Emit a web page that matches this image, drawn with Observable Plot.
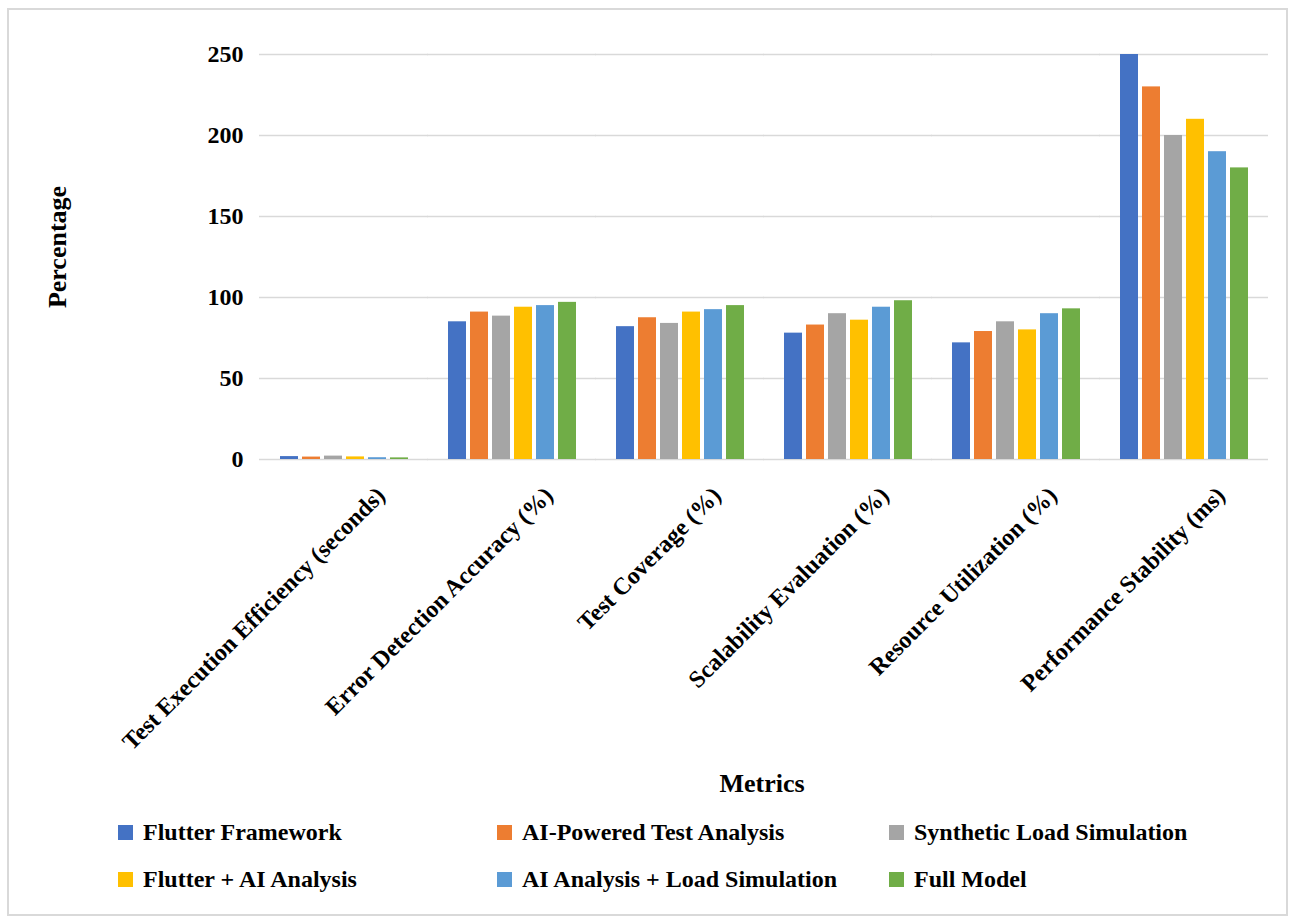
<!DOCTYPE html>
<html><head><meta charset="utf-8">
<script src="https://cdn.jsdelivr.net/npm/d3@7"></script>
<script src="https://cdn.jsdelivr.net/npm/@observablehq/plot@0.6"></script>
<style>
body{margin:0;background:#fff;font-family:"Liberation Serif","Times New Roman",serif;}
#wrap{position:relative;width:1295px;height:924px;overflow:hidden;background:#fff;}
#frame{position:absolute;left:7px;top:8px;width:1281px;height:908px;border:2px solid #d9d9d9;box-sizing:border-box;}
#chart{position:absolute;left:0;top:0;}
.ttl{position:absolute;font-weight:bold;font-size:26px;color:#000;white-space:nowrap;line-height:1;}
#ylab{left:58px;top:247px;transform:translate(-50%,-50%) rotate(-90deg);}
#xlab{left:762px;top:784px;transform:translate(-50%,-50%);}
#legend{position:absolute;left:118px;top:809px;display:grid;grid-template-columns:379px 392px auto;grid-auto-rows:47px;font-weight:bold;font-size:24px;color:#000;}
.item{display:flex;align-items:center;white-space:nowrap;}
.sw{width:15px;height:15px;margin-right:10px;flex:none;}
</style>
</head><body>
<div id="wrap">
  <div id="frame"></div>
  <div id="chart"></div>
  <div class="ttl" id="ylab">Percentage</div>
  <div class="ttl" id="xlab">Metrics</div>
  <div id="legend"></div>
</div>
<script>
const categories = ["Test Execution Efficiency (seconds)", "Error Detection Accuracy (%)", "Test Coverage (%)", "Scalability Evaluation (%)", "Resource Utilization (%)", "Performance Stability (ms)"];
const series = ["Flutter Framework", "AI-Powered Test Analysis", "Synthetic Load Simulation", "Flutter + AI Analysis", "AI Analysis + Load Simulation", "Full Model"];
const colors = ["#4472C4", "#ED7D31", "#A5A5A5", "#FFC000", "#5B9BD5", "#70AD47"];
const flutterFramework   = [1.8, 85, 82, 78, 72, 250];
const aiPoweredAnalysis  = [1.5, 91, 87.5, 83, 79, 230];
const syntheticLoad      = [2.1, 88.5, 84, 90, 85, 200];
const flutterAI          = [1.6, 94, 91, 86, 80, 210];
const aiLoad             = [1.1, 95, 92.5, 94, 90, 190];
const fullModel          = [1.0, 97, 95, 98, 93, 180];
const yTicks = [0, 50, 100, 150, 200, 250];

const seriesValues = [flutterFramework, aiPoweredAnalysis, syntheticLoad, flutterAI, aiLoad, fullModel];
const data = [];
categories.forEach((c, i) => series.forEach((s, j) => data.push({category: c, series: s, value: seriesValues[j][i]})));

const chart = Plot.plot({
  width: 1295,
  height: 800,
  marginLeft: 260,
  marginRight: 27,
  marginTop: 54,
  marginBottom: 341,
  style: {fontFamily: "Liberation Serif, Times New Roman, serif", fontWeight: "bold", color: "#000", background: "transparent", overflow: "visible"},
  fx: {domain: categories, paddingInner: 0.22, paddingOuter: 0.11, label: null},
  x: {domain: series, paddingInner: 0.2, paddingOuter: 0},
  y: {domain: [0, 250], label: null},
  color: {domain: series, range: colors},
  marks: [
    Plot.ruleY(yTicks, {insetLeft: -19, insetRight: -19, stroke: "#d9d9d9", strokeWidth: 1.6}),
    Plot.barY(data, {fx: "category", x: "series", y: "value", fill: "series"}),
    Plot.axisX({ticks: [], label: null}),
    Plot.axisY(yTicks, {tickSize: 0, tickPadding: 35, fontSize: 24, label: null}),
    Plot.axisFx({anchor: "bottom", tickRotate: -45, tickSize: 0, tickPadding: 0, fontSize: 24, dx: 37, dy: 32, label: null})
  ]
});
document.getElementById("chart").appendChild(chart);

const legend = document.getElementById("legend");
series.forEach((s, j) => {
  const it = document.createElement("div");
  it.className = "item";
  const sw = document.createElement("span");
  sw.className = "sw";
  sw.style.background = colors[j];
  const tx = document.createElement("span");
  tx.textContent = s;
  it.appendChild(sw); it.appendChild(tx);
  legend.appendChild(it);
});
</script>
</body></html>
